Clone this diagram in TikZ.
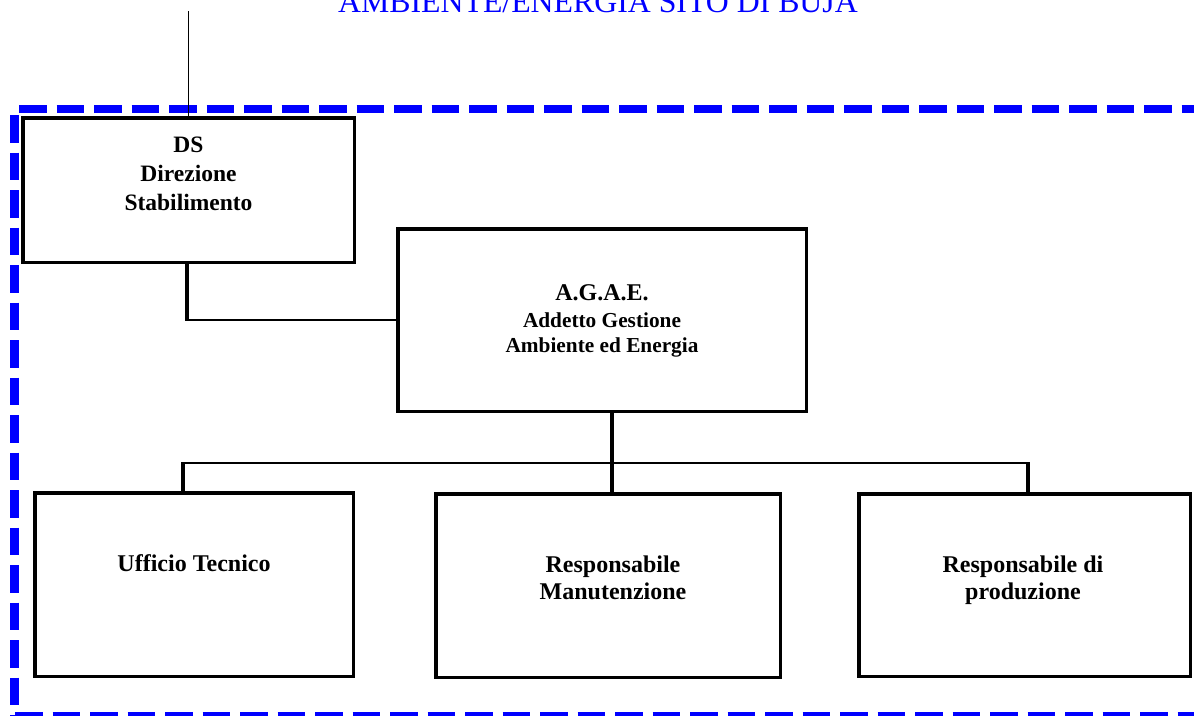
\documentclass[tikz,border=0pt]{standalone}
\usepackage{fontspec}
\setmainfont{Liberation Serif}
\begin{document}
\begin{tikzpicture}[x=1pt,y=-1pt,
  box/.style={draw=black,line width=3.5pt,rectangle,inner sep=0pt,outer sep=0pt},
  frame/.style={draw=blue,line width=8.5pt,dash pattern=on 27.5pt off 10pt},
  drop/.style={line width=3.5pt},
  link/.style={line width=2.5pt},
  lead/.style={line width=1.5pt},
  lbl/.style={anchor=base,inner sep=0pt,font=\bfseries\fontsize{24}{28}\selectfont},
  lblsmall/.style={anchor=base,inner sep=0pt,font=\bfseries\fontsize{21.3}{25}\selectfont},
]
\clip (0,0) rectangle (1194,715);
\fill[white] (0,0) rectangle (1194,715);

% site boundary (dashed blue frame)
\draw[frame] (19,109) -- (1210,109);
\draw[frame] (14.5,115) -- (14.5,722);
\draw[frame] (15,716) -- (1210,716);

% title
\node[anchor=base,inner sep=0pt,text=blue,font=\fontsize{31.8}{38}\selectfont] (title) at (598,12) {AMBIENTE/ENERGIA SITO DI BUJA};

% boxes
\node[box,minimum width=331.5pt,minimum height=144.5pt] (ds) at (188.5,190) {};
\node[box,minimum width=408.5pt,minimum height=182.5pt] (agae) at (602,320) {};
\node[box,minimum width=318.5pt,minimum height=183.5pt] (uff) at (194,584.5) {};
\node[box,minimum width=344.5pt,minimum height=183.5pt] (man) at (608,585.5) {};
\node[box,minimum width=331.5pt,minimum height=182.5pt] (prod) at (1024.5,585) {};

% box labels
\node[lbl,font=\bfseries\fontsize{23.5}{28}\selectfont] (ds1) at (188.5,152) {DS};
\node[lbl,font=\bfseries\fontsize{23.5}{28}\selectfont] (ds2) at (188.5,181) {Direzione};
\node[lbl,font=\bfseries\fontsize{23.5}{28}\selectfont] (ds3) at (188.5,210) {Stabilimento};

\node[lbl] (ag1) at (602,300) {A.G.A.E.};
\node[lblsmall] (ag2) at (602,327) {Addetto Gestione};
\node[lblsmall] (ag3) at (602,352.7) {Ambiente ed Energia};

\node[lbl] (uf1) at (194,571) {Ufficio Tecnico};

\node[lbl] (ma1) at (613,572) {Responsabile};
\node[lbl] (ma2) at (613,599) {Manutenzione};

\node[lbl] (pr1) at (1023,572) {Responsabile di};
\node[lbl] (pr2) at (1023,599) {produzione};

% connectors
\coordinate (top) at (188.5,11);
\draw[lead] (top) -- (ds.north);

\coordinate (dsjoin) at (187,320);
\draw[drop] (dsjoin |- ds.south) -- (dsjoin);
\draw[link] ([xshift=-1.75pt]dsjoin) -- (agae.west);

\coordinate (busL) at (183,463);
\coordinate (busM) at (612,463);
\coordinate (busR) at (1028,463);
\draw[link] ([xshift=-1.75pt]busL) -- ([xshift=1.75pt]busR);
\draw[drop] (busM |- agae.south) -- (busM |- man.north);
\draw[drop] ([yshift=-1.25pt]busL) -- (busL |- uff.north);
\draw[drop] ([yshift=-1.25pt]busR) -- (busR |- prod.north);
\end{tikzpicture}
\end{document}
